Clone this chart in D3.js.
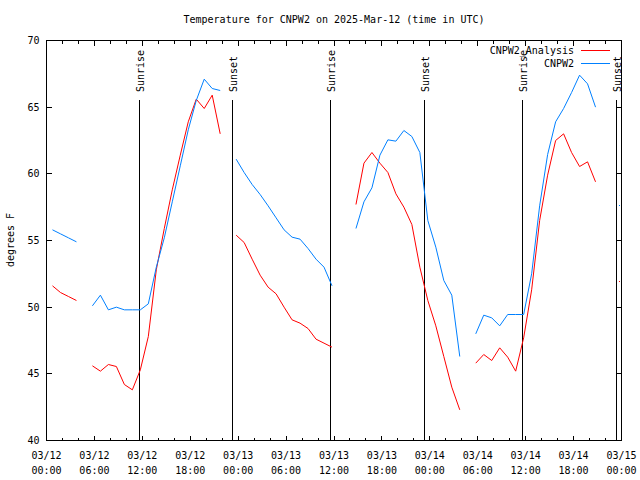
<!DOCTYPE html>
<html><head><meta charset="utf-8">
<script src="https://cdn.jsdelivr.net/npm/d3@7"></script>
<style>
body{margin:0;background:#fff}
svg{display:block}
text{font-family:"DejaVu Sans Mono","Liberation Mono",monospace;font-size:10px;fill:#000}
</style>
</head><body>
<svg id="chart" width="640" height="480"></svg>
<script>
const titleText = "Temperature for CNPW2 on 2025-Mar-12 (time in UTC)";
const yLabelText = "degrees F";
const seriesNames = ["CNPW2_Analysis", "CNPW2"];
const seriesColors = ["#ff0000", "#0080ff"];
const yTickValues = [40, 45, 50, 55, 60, 65, 70];
const xDomain = ["2025-03-12T00:00Z", "2025-03-15T00:00Z"];
const firstObs = "2025-03-12T00:45Z"; // hourly observations, one per hour

// CNPW2 Analysis (red)
const analysisValues = [
  51.6, 51.1, 50.8, 50.5, null,
  45.6, 45.2, 45.7, 45.55, 44.2, 43.8, 45.3, 47.8, 52.8, 55.9, 58.8, 61.4, 63.9, 65.6, 64.9, 65.9, 63.0, null,
  55.4, 54.85, 53.6, 52.4, 51.5, 51.0, 50.0, 49.05, 48.8, 48.4, 47.6, 47.3, 47.0, null, null,
  57.7, 60.8, 61.6, 60.8, 60.1, 58.5, 57.5, 56.2, 53.0, 50.5, 48.6, 46.3, 44.0, 42.3, null,
  45.8, 46.45, 46.0, 46.95, 46.25, 45.2, 47.7, 51.3, 56.5, 59.9, 62.5, 63.0, 61.6, 60.55, 60.9, 59.4, null, null,
  51.9
];
// CNPW2 station (blue)
const stationValues = [
  55.8, 55.5, 55.2, 54.9, null,
  50.1, 50.9, 49.8, 50.0, 49.8, 49.8, 49.8, 50.25, 53.0, 55.2, 57.9, 60.6, 63.3, 65.5, 67.1, 66.4, 66.25, null,
  61.1, 60.1, 59.2, 58.45, 57.6, 56.7, 55.8, 55.25, 55.1, 54.4, 53.6, 53.0, 51.6, null, null,
  55.9, 57.9, 58.95, 61.4, 62.55, 62.45, 63.25, 62.8, 61.6, 56.5, 54.5, 52.0, 50.9, 46.3, null,
  48.0, 49.4, 49.2, 48.6, 49.45, 49.45, 49.45, 52.5, 57.6, 61.45, 63.9, 64.9, 66.1, 67.4, 66.75, 65.0, null, null,
  57.6
];
const sunLabels = ["Sunrise", "Sunset", "Sunrise", "Sunset", "Sunrise", "Sunset"];
const sunTimes = ["2025-03-12T11:37Z", "2025-03-12T23:16Z", "2025-03-13T11:32Z",
                  "2025-03-13T23:19Z", "2025-03-14T11:35Z", "2025-03-14T23:24Z"];

const svg = d3.select("#chart");
const L = 46.5, R = 621.5, T = 40.5, B = 440.5;

const x = d3.scaleUtc().domain(xDomain.map(d => new Date(d))).range([L, R]);
const y = d3.scaleLinear().domain([40, 70]).range([B, T]);

const t0 = new Date(firstObs);
const times = analysisValues.map((_, i) => d3.utcHour.offset(t0, i));

// frame
svg.append("rect").attr("x", L).attr("y", T).attr("width", R - L).attr("height", B - T)
  .attr("fill", "none").attr("stroke", "#000").attr("shape-rendering", "crispEdges");

const g = svg.append("g").attr("stroke", "#000").attr("shape-rendering", "crispEdges");
// x ticks
const major = x.ticks(d3.utcHour.every(6));
const minor = x.ticks(d3.utcHour.every(2));
minor.forEach(t => {
  const isMajor = t.getUTCHours() % 6 === 0;
  const len = isMajor ? 5 : 3;
  const xp = Math.round(x(t) - 0.5) + 0.5;
  g.append("line").attr("x1", xp).attr("x2", xp).attr("y1", B).attr("y2", B - len);
  g.append("line").attr("x1", xp).attr("x2", xp).attr("y1", T).attr("y2", T + len);
});
// y ticks
yTickValues.forEach(v => {
  const yp = Math.round(y(v) - 0.5) + 0.5;
  g.append("line").attr("x1", L).attr("x2", L + 5).attr("y1", yp).attr("y2", yp);
  g.append("line").attr("x1", R).attr("x2", R - 5).attr("y1", yp).attr("y2", yp);
});

// y tick labels
svg.append("g").selectAll("text").data(yTickValues).join("text")
  .attr("x", 39.5).attr("y", d => y(d)).attr("dy", "0.35em")
  .attr("text-anchor", "end").text(d => d);

// x tick labels
const fDate = d3.utcFormat("%m/%d"), fTime = d3.utcFormat("%H:%M");
const xl = svg.append("g").selectAll("g").data(major).join("g");
xl.append("text").attr("x", d => x(d)).attr("y", 459).attr("text-anchor", "middle").text(d => fDate(d));
xl.append("text").attr("x", d => x(d)).attr("y", 474).attr("text-anchor", "middle").text(d => fTime(d));

// title
svg.append("text").attr("x", (L + R) / 2).attr("y", 23).attr("text-anchor", "middle").text(titleText);

// y label
svg.append("text").attr("transform", "translate(13.5,240) rotate(-90)")
  .attr("text-anchor", "middle").text(yLabelText);

// sunrise / sunset
sunTimes.forEach((s, i) => {
  const xp = Math.round(x(new Date(s)) - 0.5) + 0.5;
  svg.append("line").attr("x1", xp).attr("x2", xp).attr("y1", 100).attr("y2", B)
    .attr("stroke", "#000").attr("shape-rendering", "crispEdges");
  svg.append("text").attr("transform", `translate(${xp + 4.5},92) rotate(-90)`)
    .attr("text-anchor", "start").text(sunLabels[i]);
});

// series
const line = d3.line().defined(d => d.v != null).x(d => x(d.t)).y(d => y(d.v));
[analysisValues, stationValues].forEach((vals, si) => {
  const pts = vals.map((v, i) => ({ t: times[i], v }));
  svg.append("path").datum(pts).attr("d", line).attr("fill", "none")
    .attr("stroke", seriesColors[si]).attr("stroke-width", 1);
  // isolated single observations
  const iso = pts.filter((p, i) => p.v != null && (i === 0 || pts[i - 1].v == null) && (i === pts.length - 1 || pts[i + 1].v == null));
  svg.append("g").selectAll("rect").data(iso).join("rect")
    .attr("x", d => Math.floor(x(d.t))).attr("y", d => Math.floor(y(d.v)))
    .attr("width", 1).attr("height", 1).attr("fill", seriesColors[si]);
});

// legend
const legY = [53.5, 66.5];
seriesNames.forEach((name, i) => {
  svg.append("text").attr("x", 574).attr("y", legY[i]).attr("text-anchor", "end").text(name);
  svg.append("line").attr("x1", 581).attr("x2", 610).attr("y1", legY[i] - 3.5).attr("y2", legY[i] - 3.5)
    .attr("stroke", seriesColors[i]).attr("shape-rendering", "crispEdges");
});
</script>
</body></html>
